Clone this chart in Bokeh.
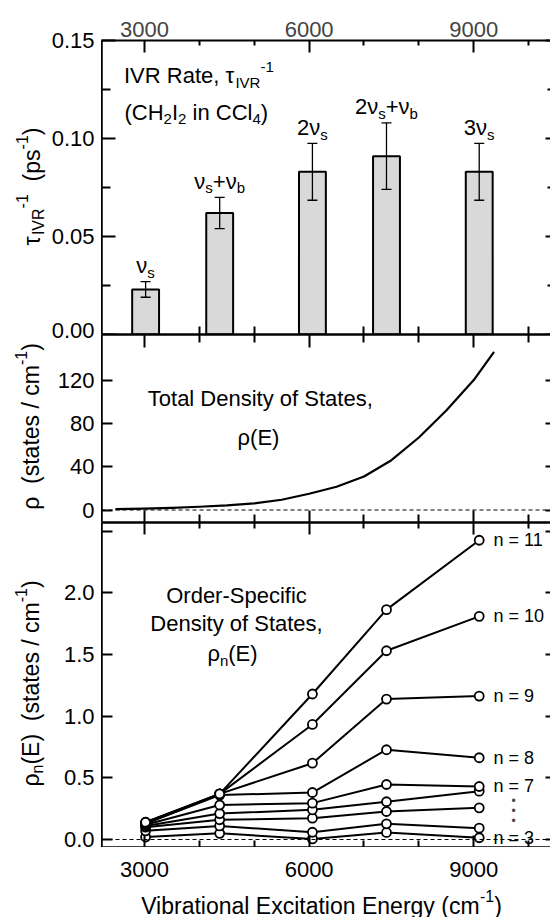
from math import pi
from bokeh.plotting import figure
from bokeh.models import (Range1d, LinearAxis, FixedTicker, Label, Span, Whisker,
                          ColumnDataSource, TeeHead)
from bokeh.layouts import column, row
from bokeh.embed import file_html
from bokeh.resources import INLINE

# ---------------- data ----------------
band_energy = [3020, 4370, 6060, 7410, 9100]          # cm-1
band_label = ["ν_s", "ν_s+ν_b", "2ν_s", "2ν_s+ν_b", "3ν_s"]
ivr_rate = [0.023, 0.062, 0.083, 0.091, 0.083]         # ps-1
ivr_err = [0.004, 0.008, 0.0145, 0.017, 0.0145]

dos_energy = [2470, 3000, 3500, 4000, 4500, 5000, 5500, 6000, 6500, 7000, 7500, 8000, 8500, 9000, 9370]
dos_total = [0.8, 1.3, 2.0, 3.0, 4.3, 6.2, 9.5, 15, 21.5, 31, 46, 67, 92, 120, 146]

order_n = [3, 4, 5, 6, 7, 8, 9, 10, 11]
rho_n3 = [0.02, 0.05, 0.005, 0.057, 0.014]
rho_n4 = [0.07, 0.11, 0.059, 0.127, 0.092]
rho_n5 = [0.10, 0.16, 0.173, 0.227, 0.257]
rho_n6 = [0.11, 0.21, 0.241, 0.306, 0.392]
rho_n7 = [0.12, 0.28, 0.295, 0.446, 0.430]
rho_n8 = [0.13, 0.36, 0.381, 0.728, 0.663]
rho_n9 = [0.13, 0.37, 0.619, 1.139, 1.163]
rho_n10 = [0.14, 0.37, 0.933, 1.531, 1.810]
rho_n11 = [0.14, 0.37, 1.180, 1.864, 2.427]
rho_series = [rho_n3, rho_n4, rho_n5, rho_n6, rho_n7, rho_n8, rho_n9, rho_n10, rho_n11]
labelled_n = [3, 7, 8, 9, 10, 11]

x_ticks = [3000, 6000, 9000]
x_minor = [4000, 5000, 7000, 8000, 10000]
rate_ticks = [0.0, 0.05, 0.10, 0.15]
rate_minor = [0.025, 0.075, 0.125]
dos_ticks = [0, 40, 80, 120]
rhon_ticks = [0.0, 0.5, 1.0, 1.5, 2.0, 2.5]
rhon_labelled = [0.0, 0.5, 1.0, 1.5, 2.0]

# ---------------- layout geometry (page pixels, page origin at 0) ----------------
FONT = "Liberation Sans"
PAGE_W, PAGE_BOT = 550, 917
X0, X1 = 2216, 10399
FL, FR = 101, 550
P1_TOP, P1_BOT = 40, 334
P2_BOT = 522
P3_BOT = 847
LEFT_W = FL
MAIN_W = PAGE_W - LEFT_W


def xd(px):
    return X0 + (px - FL) * (X1 - X0) / (FR - FL)


def xp(v):
    return FL + (v - X0) / (X1 - X0) * (FR - FL)


def y1d(py):
    return (P1_BOT - py) / (P1_BOT - P1_TOP) * 0.15


def y1p(v):
    return P1_BOT - v / 0.15 * (P1_BOT - P1_TOP)


def y2d(py):
    return (509.5 - py) * 40 / 43.3


def y2p(v):
    return 509.5 - v * 43.3 / 40


def y3d(py):
    return (839 - py) / 123.3


def y3p(v):
    return 839 - v * 123.3


WID = {' ': .278, '(': .333, ')': .333, ',': .278, '-': .333, '.': .278, '/': .278, '=': .584, '+': .584,
       'A': .667, 'B': .667, 'C': .722, 'D': .722, 'E': .667, 'F': .611, 'H': .722, 'I': .278, 'L': .556,
       'O': .778, 'P': .667, 'R': .722, 'S': .667, 'T': .611, 'V': .667,
       'a': .556, 'b': .556, 'c': .5, 'd': .556, 'e': .556, 'f': .278, 'g': .556, 'h': .556, 'i': .222,
       'l': .222, 'm': .833, 'n': .556, 'o': .556, 'p': .556, 'r': .333, 's': .5, 't': .278, 'x': .5,
       'y': .5, 'τ': .45, 'ν': .5, 'ρ': .57}


def tw(s, size):
    return sum(WID.get(c, 0.556) for c in s) * size


def parse(s):
    parts, buf, i = [], "", 0
    while i < len(s):
        if s[i] == "_":
            if buf:
                parts.append((buf, "n"))
                buf = ""
            parts.append((s[i + 1], "sub"))
            i += 2
            continue
        buf += s[i]
        i += 1
    if buf:
        parts.append((buf, "n"))
    return parts


def rich(fig, x, y, parts, size=22, align="left", angle=0.0, base_dx=0.0, base_dy=0.0):
    small = round(size * 0.68)
    pieces, total = [], 0.0
    for txt, kind in parts:
        fs = size if kind == "n" else small
        lead = len(txt) - len(txt.lstrip(" "))
        core = txt.strip(" ")
        pieces.append((core, kind, fs, total + tw(" " * lead, fs)))
        total += tw(txt, fs)
    start = {"left": 0.0, "center": -total / 2, "right": -total}[align]
    for txt, kind, fs, off in pieces:
        along = start + off
        perp = {"n": 0.0, "sub": -0.30 * size, "sup": 0.40 * size}[kind]
        if angle == 0:
            dx, dy = along, perp
        else:
            dx, dy = -perp, along
        fig.add_layout(Label(x=x, y=y, x_offset=dx + base_dx, y_offset=dy + base_dy, text=txt,
                             angle=angle, text_font=FONT, text_font_size=f"{fs}px",
                             text_align="left", text_baseline="middle", text_color="black"))


def plain_fig(w, h, xr, yr):
    p = figure(width=w, height=h, x_range=xr, y_range=yr, output_backend="svg",
               toolbar_location=None, x_axis_location=None, y_axis_location=None,
               min_border=0)
    p.grid.visible = False
    p.outline_line_color = None
    p.background_fill_color = "white"
    p.border_fill_color = "white"
    return p


xr = Range1d(X0, X1)


def make_fig(h, yr, top, bottom):
    p = figure(width=MAIN_W, height=h, x_range=xr, y_range=yr, output_backend="svg",
               toolbar_location=None, x_axis_location=None, y_axis_location=None,
               min_border_left=0, min_border_right=0, min_border_top=top,
               min_border_bottom=bottom)
    p.grid.visible = False
    p.outline_line_color = None
    p.background_fill_color = "white"
    p.border_fill_color = "white"
    return p


def hide_labels(ax):
    ax.major_label_text_color = None
    ax.major_label_text_font_size = "0px"
    ax.major_label_standoff = 0


def xaxis(p, loc, maj_in, min_in, labels=False, standoff=6, lw=2.5):
    ax = LinearAxis(ticker=FixedTicker(ticks=x_ticks, minor_ticks=x_minor))
    ax.axis_line_width = lw
    ax.major_tick_in = maj_in
    ax.major_tick_out = 0
    ax.minor_tick_in = min_in
    ax.minor_tick_out = 0
    ax.major_tick_line_width = 2
    ax.minor_tick_line_width = 2
    if labels:
        ax.major_label_text_font = FONT
        ax.major_label_text_font_size = "22px"
        ax.major_label_standoff = standoff
    else:
        hide_labels(ax)
    p.add_layout(ax, loc)


def yaxes(p, ticks, minor, maj_in=11, min_in=8):
    ax = LinearAxis(ticker=FixedTicker(ticks=ticks, minor_ticks=minor))
    ax.axis_line_width = 2.5
    ax.major_tick_in = maj_in
    ax.major_tick_out = 0
    ax.minor_tick_in = min_in
    ax.minor_tick_out = 0
    ax.major_tick_line_width = 2
    ax.minor_tick_line_width = 2
    hide_labels(ax)
    p.add_layout(ax, "left")
    ra = LinearAxis(ticker=FixedTicker(ticks=ticks, minor_ticks=minor))
    ra.axis_line_color = None
    ra.major_tick_in = 5
    ra.major_tick_out = 0
    ra.minor_tick_in = 3
    ra.minor_tick_out = 0
    ra.major_tick_line_width = 2
    ra.minor_tick_line_width = 2
    hide_labels(ra)
    p.add_layout(ra, "right")


# ---------------- panel 1: IVR rates ----------------
p1 = make_fig(P1_BOT, Range1d(0, 0.15), P1_TOP, 0)
xaxis(p1, "above", 12, 5, labels=True, standoff=4, lw=2)
xaxis(p1, "below", 0, 8)
yaxes(p1, rate_ticks, rate_minor, maj_in=14, min_in=9)

src = ColumnDataSource(dict(x=band_energy, top=ivr_rate,
                            upper=[r + e for r, e in zip(ivr_rate, ivr_err)],
                            lower=[r - e for r, e in zip(ivr_rate, ivr_err)]))
p1.vbar(x="x", top="top", width=490, source=src, fill_color="#d9d9d9",
        line_color="black", line_width=2)
wh = Whisker(base="x", upper="upper", lower="lower", source=src, line_width=1.3,
             line_color="black",
             upper_head=TeeHead(size=10, line_width=1.3, line_color="black"),
             lower_head=TeeHead(size=10, line_width=1.3, line_color="black"))
wh.level = "overlay"
p1.add_layout(wh)

for e, r, er, lab in zip(band_energy, ivr_rate, ivr_err, band_label):
    rich(p1, e, r + er, parse(lab), 22, "center", base_dy=16)

rich(p1, xd(123.5), y1d(75), [("IVR Rate, τ", "n"), ("IVR", "sub"), ("-1", "sup")], 22)
rich(p1, xd(124), y1d(112), [("(CH", "n"), ("2", "sub"), ("I", "n"), ("2", "sub"),
                             (" in CCl", "n"), ("4", "sub"), (")", "n")], 22)

# ---------------- panel 2: total density of states ----------------
p2 = make_fig(P2_BOT - P1_BOT, Range1d(y2d(P2_BOT), y2d(P1_BOT)), 0, 0)
xaxis(p2, "above", 13, 8)
xaxis(p2, "below", 12, 8)
yaxes(p2, dos_ticks, [])
p2.add_layout(Span(location=0, dimension="width", line_dash="4 3", line_width=1,
                   line_color="black"))
p2.line(dos_energy, dos_total, line_width=2.2, line_color="black", line_join="round")
rich(p2, xd(261), y2d(398), [("Total Density of States,", "n")], 22, "center")
rich(p2, xd(258), y2d(437), [("ρ(E)", "n")], 22, "center")

# ---------------- panel 3: order-specific density of states ----------------
p3 = make_fig(P3_BOT - P2_BOT, Range1d(y3d(P3_BOT), y3d(P2_BOT)), 0, 0)
xaxis(p3, "above", 12, 6)
xaxis(p3, "below", 12, 7)
yaxes(p3, rhon_ticks, [])
p3.add_layout(Span(location=0, dimension="width", line_dash="4 3", line_width=1,
                   line_color="black"))
for vals in rho_series:
    p3.line(band_energy, vals, line_width=2, line_color="black")
for vals in rho_series:
    p3.scatter(band_energy, vals, size=9, marker="circle", fill_color="white",
               line_color="black", line_width=1.8)
for n, vals in zip(order_n, rho_series):
    if n in labelled_n:
        rich(p3, xd(493), vals[-1], [(f"n = {n}", "n")], 18)
for py in (800, 810, 820):
    p3.add_layout(Label(x=xd(513), y=y3d(py), text="•", text_font=FONT, text_font_size="12px",
                        text_align="center", text_baseline="middle"))

rich(p3, xd(236), y3d(595), [("Order-Specific", "n")], 22, "center")
rich(p3, xd(236), y3d(623), [("Density of States,", "n")], 22, "center")
rich(p3, xd(232), y3d(653), [("ρ", "n"), ("n", "sub"), ("(E)", "n")], 22, "center")

# ---------------- left strip (full height): y tick labels and y titles ----------------
left = plain_fig(LEFT_W, PAGE_BOT, Range1d(0, FL), Range1d(PAGE_BOT, 0))


def tick_label(text, py):
    left.add_layout(Label(x=FL - 7, y=py, text=text, text_font=FONT, text_font_size="22px",
                          text_align="right", text_baseline="middle", text_color="black"))


for v in rate_ticks:
    tick_label(f"{v:.2f}", y1p(v) - (4 if v == 0 else 0))
for v in dos_ticks:
    tick_label(f"{v:.0f}", y2p(v))
for v in rhon_labelled:
    tick_label(f"{v:.1f}", y3p(v))

rich(left, 31, 186, [("τ", "n"), ("IVR", "sub"), ("-1", "sup"), ("  (ps", "n"),
                     ("-1", "sup"), (")", "n")], 23, "center", angle=pi / 2)
rich(left, 30, 426, [("ρ", "n"), ("  (states / cm", "n"), ("-1", "sup"), (")", "n")],
     23, "center", angle=pi / 2)
rich(left, 30, 683, [("ρ", "n"), ("n", "sub"), ("(E)", "n"), ("  (states / cm", "n"),
                     ("-1", "sup"), (")", "n")], 23, "center", angle=pi / 2)

# ---------------- bottom strip: x tick labels and x title ----------------
bottom = plain_fig(MAIN_W, PAGE_BOT - P3_BOT, Range1d(FL, PAGE_W), Range1d(PAGE_BOT, P3_BOT))
for v in x_ticks:
    bottom.add_layout(Label(x=xp(v), y=869, text=f"{v}", text_font=FONT, text_font_size="22px",
                            text_align="center", text_baseline="middle", text_color="black"))
rich(bottom, 321, 905, [("Vibrational Excitation Energy (cm", "n"), ("-1", "sup"), (")", "n")],
     23, "center")

layout = row(left, column(p1, p2, p3, bottom, spacing=0), spacing=0)
open("out.html", "w").write(file_html(layout, INLINE))
